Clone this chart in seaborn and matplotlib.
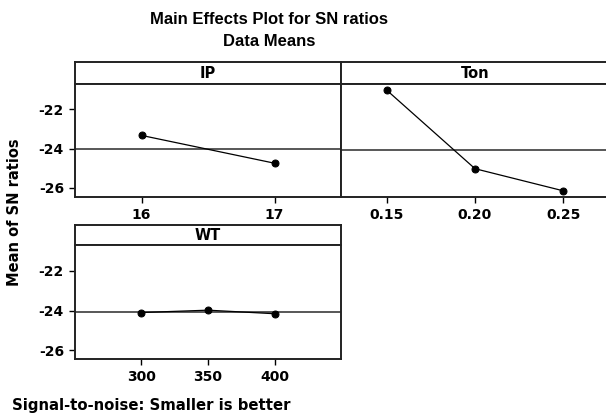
import matplotlib
matplotlib.use("Agg")
import matplotlib.pyplot as plt
import seaborn as sns
import pandas as pd
import numpy as np

# ---- data ----
ip_levels = [16, 17]
ip_sn = [-23.33, -24.75]
ton_levels = [0.15, 0.20, 0.25]
ton_sn = [-21.02, -25.03, -26.16]
wt_levels = [300, 350, 400]
wt_sn = [-24.10, -23.98, -24.16]

y_ticks = [-22, -24, -26]
y_tick_labels = ["-22", "-24", "-26"]
ip_tick_labels = ["16", "17"]
ton_tick_labels = ["0.15", "0.20", "0.25"]
wt_tick_labels = ["300", "350", "400"]

title_lines = ["Main Effects Plot for SN ratios", "Data Means"]
y_label = "Mean of SN ratios"
footer = "Signal-to-noise: Smaller is better"

sns.set_style("white")
plt.rcParams["font.family"] = ["DejaVu Sans"]
plt.rcParams["text.color"] = "black"
plt.rcParams["axes.labelcolor"] = "black"
plt.rcParams["xtick.color"] = "black"
plt.rcParams["ytick.color"] = "black"

W, H = 606, 419
fig = plt.figure(figsize=(W / 100, H / 100), dpi=100)

def fx(px):
    return px / W

def fy(py):
    return 1 - py / H

ylim = (-26.46, -20.69)
frame_col = "#222222"

def panel(x0, x1, strip_top, strip_bot, plot_bot, name, levels, vals, ticklabels, xlim, show_y):
    # strip
    sax = fig.add_axes([fx(x0), fy(strip_bot), fx(x1 - x0), (strip_bot - strip_top) / H])
    sax.set_xticks([]); sax.set_yticks([])
    for s in sax.spines.values():
        s.set_color(frame_col); s.set_linewidth(1.4)
    sax.text(0.5, 0.5, name, ha="center", va="center", fontsize=10.5, fontweight="bold",
             color="black", transform=sax.transAxes)
    # plot area
    ax = fig.add_axes([fx(x0), fy(plot_bot), fx(x1 - x0), (plot_bot - strip_bot) / H])
    df = pd.DataFrame({"level": levels, "sn": vals})
    ax.axhline(np.mean(vals), color="#2a2a2a", lw=1.1, zorder=1)
    sns.lineplot(data=df, x="level", y="sn", ax=ax, color="black", lw=0.9,
                 marker="o", markersize=5, markeredgecolor="black", zorder=3)
    ax.set_xlim(*xlim)
    ax.set_ylim(*ylim)
    ax.set_xticks(levels)
    ax.set_xticklabels(ticklabels, fontsize=10, fontweight="bold")
    ax.set_xlabel(""); ax.set_ylabel("")
    if show_y:
        ax.set_yticks(y_ticks)
        ax.set_yticklabels(y_tick_labels, fontsize=10, fontweight="bold")
        ax.tick_params(axis="y", left=True, direction="out", length=4, width=1, pad=4, colors="black")
    else:
        ax.set_yticks([])
    ax.tick_params(axis="x", bottom=True, direction="out", length=4, width=1, pad=4, colors="black")
    for s in ax.spines.values():
        s.set_color(frame_col); s.set_linewidth(1.4)
    return ax

panel(75, 341, 62.3, 83.7, 196.7, "IP", ip_levels, ip_sn, ip_tick_labels, (15.5, 17.5), True)
panel(341, 609, 62.3, 83.7, 196.7, "Ton", ton_levels, ton_sn, ton_tick_labels, (0.1241, 0.2759), False)
panel(75, 341, 225, 245, 359.3, "WT", wt_levels, wt_sn, wt_tick_labels, (250.5, 449.5), True)

tfam = ["Liberation Sans Narrow", "Liberation Sans"]
fig.text(fx(269), fy(20), title_lines[0], ha="center", va="center", fontsize=12,
         fontweight="bold", family=tfam, color="black")
fig.text(fx(269), fy(42), title_lines[1], ha="center", va="center", fontsize=12,
         fontweight="bold", family=tfam, color="black")
fig.text(fx(15), fy(212), y_label, ha="center", va="center", rotation=90, fontsize=10.5,
         fontweight="bold", color="black")
fig.text(fx(12), fy(405), footer, ha="left", va="center", fontsize=10.7, fontweight="bold",
         color="black")

fig.savefig("out.png", dpi=100)
